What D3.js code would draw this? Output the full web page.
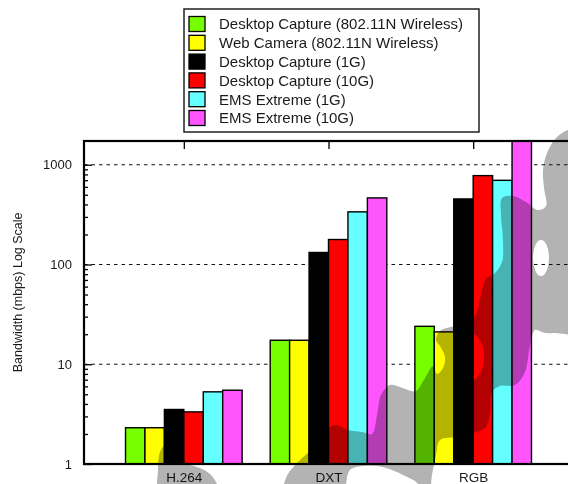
<!DOCTYPE html>
<html>
<head>
<meta charset="utf-8">
<script src="https://cdn.jsdelivr.net/npm/d3@7"></script>
<style>
  html, body { margin: 0; padding: 0; background: #fff; }
  svg { display: block; }
  text { font-family: "Liberation Sans", Arial, Helvetica, sans-serif; fill: #1a1a1a; }
</style>
</head>
<body>
<svg id="chart" width="568" height="484"></svg>
<script>
// ---- data -------------------------------------------------------------
const categories = ["H.264", "DXT", "RGB"];
const seriesNames = [
  "Desktop Capture (802.11N Wireless)",
  "Web Camera (802.11N Wireless)",
  "Desktop Capture (1G)",
  "Desktop Capture (10G)",
  "EMS Extreme (1G)",
  "EMS Extreme (10G)"
];
const desktopWireless = [2.31, 17.4, 24.0];
const webcamWireless  = [2.31, 17.4, 21.1];
const desktop1G       = [3.52, 132, 454];
const desktop10G      = [3.33, 178, 778];
const ems1G           = [5.29, 337, 698];
const ems10G          = [5.49, 465, 1900];
const yTickValues = [1, 10, 100, 1000];
const yTickLabels = ["1", "10", "100", "1000"];
const yTitle = "Bandwidth (mbps) Log Scale";

// ---- styling ----------------------------------------------------------
const seriesColors = ["#77ff00", "#ffff00", "#000000", "#ff0000", "#66ffff", "#ff55ff"];
const series = [desktopWireless, webcamWireless, desktop1G, desktop10G, ems1G, ems10G];

const W = 568, H = 484;
const plot = { left: 84, top: 141, right: 573, bottom: 464 };

const svg = d3.select("#chart");
svg.append("rect").attr("width", W).attr("height", H).attr("fill", "#fff");

// ---- scales -----------------------------------------------------------
const y = d3.scaleLog().domain([1, 1730]).range([plot.bottom, plot.top]);
const x = d3.scaleLinear()
  .domain([-0.69, categories.length - 1 + 0.69])
  .range([plot.left, plot.right]);
const groupSpan = 0.806;
const inner = d3.scaleBand()
  .domain(d3.range(series.length))
  .range([-groupSpan / 2, groupSpan / 2]);

// ---- grid -------------------------------------------------------------
svg.append("g")
  .selectAll("line")
  .data(yTickValues.filter(v => v > 1))
  .join("line")
  .attr("x1", plot.left).attr("x2", plot.right)
  .attr("y1", d => y(d)).attr("y2", d => y(d))
  .attr("stroke", "#111").attr("stroke-width", 1.1)
  .attr("stroke-dasharray", "3.5,4");

// ---- axes -------------------------------------------------------------
const minorTicks = [];
yTickValues.forEach(d => { for (let k = 2; k <= 9; k++) if (d * k <= 1730) minorTicks.push(d * k); });

const leftAxis = svg.append("g")
  .attr("transform", `translate(${plot.left},0)`)
  .call(d3.axisLeft(y).tickValues(yTickValues)
    .tickFormat((d, i) => yTickLabels[i]).tickSize(-8).tickPadding(12));
svg.append("g")
  .attr("transform", `translate(${plot.left},0)`)
  .call(d3.axisLeft(y).tickValues(minorTicks).tickFormat("").tickSize(-4));

svg.append("g")
  .attr("transform", `translate(0,${plot.top})`)
  .call(d3.axisTop(x).tickValues(d3.range(categories.length)).tickFormat("").tickSize(-8));

const bottomAxis = svg.append("g")
  .attr("transform", `translate(0,${plot.bottom})`)
  .call(d3.axisBottom(x).tickValues(d3.range(categories.length))
    .tickFormat(i => categories[i]).tickSize(-8).tickPadding(8.5));

svg.selectAll(".domain").remove();
svg.selectAll(".tick line").attr("stroke", "#000").attr("stroke-width", 1.3);
leftAxis.selectAll("text").style("font-size", "13px").attr("fill", "#1a1a1a");
bottomAxis.selectAll("text").style("font-size", "13.5px").attr("fill", "#1a1a1a");

// ---- bars -------------------------------------------------------------
svg.append("clipPath").attr("id", "plotClip")
  .append("rect")
  .attr("x", plot.left).attr("y", plot.top)
  .attr("width", plot.right - plot.left).attr("height", plot.bottom - plot.top);

const barW = x(inner.bandwidth()) - x(0);
const bars = svg.append("g").attr("clip-path", "url(#plotClip)");
series.forEach((vals, s) => {
  bars.append("g")
    .selectAll("rect")
    .data(vals)
    .join("rect")
    .attr("x", (d, i) => x(i + inner(s)))
    .attr("width", barW)
    .attr("y", d => y(d))
    .attr("height", d => y(1) - y(d))
    .attr("fill", seriesColors[s])
    .attr("stroke", "#000")
    .attr("stroke-width", 1.4);
});

// ---- border -----------------------------------------------------------
svg.append("rect")
  .attr("x", plot.left).attr("y", plot.top)
  .attr("width", plot.right - plot.left).attr("height", plot.bottom - plot.top)
  .attr("fill", "none").attr("stroke", "#000").attr("stroke-width", 2.2);

// ---- y title ----------------------------------------------------------
svg.append("text")
  .attr("transform", `translate(18,${(y(1) + y(1000)) / 2 - 22}) rotate(-90)`)
  .attr("text-anchor", "middle")
  .attr("dy", "0.35em")
  .style("font-size", "12.5px")
  .text(yTitle);

// ---- legend -----------------------------------------------------------
const legend = svg.append("g");
legend.append("rect")
  .attr("x", 184).attr("y", 9).attr("width", 295).attr("height", 123)
  .attr("fill", "#fff").attr("stroke", "#222").attr("stroke-width", 1.5);
const rowY = i => 24 + 18.8 * i;
const rows = legend.selectAll("g.row").data(seriesNames).join("g").attr("class", "row");
rows.append("rect")
  .attr("x", 189).attr("y", (d, i) => rowY(i) - 7.5)
  .attr("width", 16).attr("height", 15)
  .attr("fill", (d, i) => seriesColors[i])
  .attr("stroke", "#000").attr("stroke-width", 1.3);
rows.append("text")
  .attr("x", 219).attr("y", (d, i) => rowY(i))
  .attr("dy", "0.36em")
  .style("font-size", "15px")
  .text(d => d);

// ---- decorative brush stroke over the plot ------------------------------
const strokeOutline = [
  [284,500],[286,478],[298,462],[314,447],[326,430],[336,425],[348,430],[362,432],
  [372,434],[377,415],[381,395],[390,385],[400,387],[408,390],[416,391],[425,378],
  [433,366],[437,374],[443,368],[445,357],[440,346],[436,340],[440,331],[455,326],
  [470,322],[477,312],[481,295],[486,279],[495,273],[502,262],[503,240],[501,215],
  [502,198],[513,196],[526,202],[538,210],[546,206],[544,188],[543,170],[547,153],
  [556,138],[568,130],[595,126],[595,340],[565,334],[545,333],[535,330],[530,345],
  [525,372],[515,385],[500,386],[492,392],[490,412],[486,427],[474,433],[458,437],
  [440,440],[436,455],[432,475],[428,500],[420,500],[418,484],[405,476],[392,470],
  [378,466],[362,466],[350,470],[346,484],[344,500]
];
const strokeTail = [
  [158,470],[160,452],[165,445],[172,446],[180,455],[188,464],[200,468],[212,476],
  [218,492],[160,494]
];
const holes = [
  { cx: 541, cy: 258, rx: 8, ry: 18 },
  { cx: 470, cy: 357, rx: 14, ry: 24 }
];
const outline = d3.line().curve(d3.curveCatmullRomClosed.alpha(0.5));
const ellipsePath = h =>
  `M${h.cx - h.rx},${h.cy}a${h.rx},${h.ry} 0 1,0 ${2 * h.rx},0a${h.rx},${h.ry} 0 1,0 ${-2 * h.rx},0Z`;
svg.append("path")
  .attr("d", outline(strokeOutline) + holes.map(ellipsePath).join("") + outline(strokeTail))
  .attr("fill", "#b3b3b3")
  .attr("fill-rule", "evenodd")
  .style("mix-blend-mode", "multiply");
</script>
</body>
</html>
